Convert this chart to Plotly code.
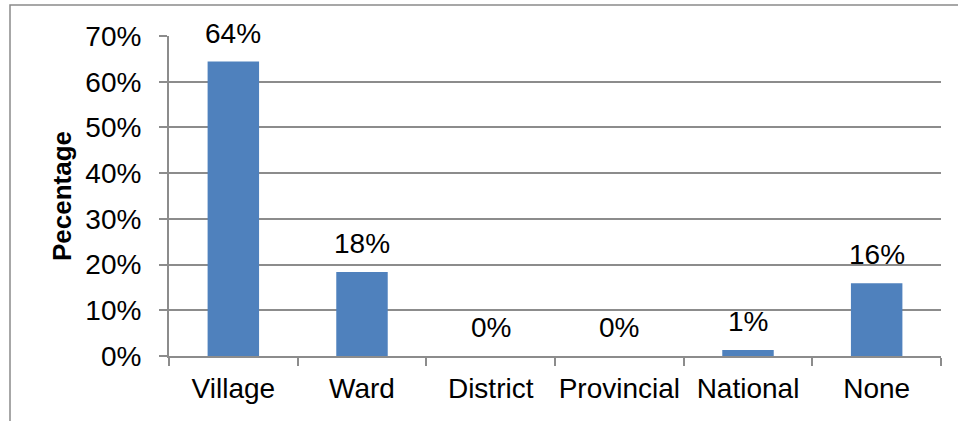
import plotly.graph_objects as go

categories = ["Village", "Ward", "District", "Provincial", "National", "None"]
values = [64.4, 18.4, 0, 0, 1.3, 15.9]
labels = ["64%", "18%", "0%", "0%", "1%", "16%"]
y_ticks = [0, 10, 20, 30, 40, 50, 60, 70]
y_tick_text = ["0%", "10%", "20%", "30%", "40%", "50%", "60%", "70%"]

W, H = 958, 421
ML, MR, MT, MB = 169, 17, 36, 65
PW, PH = W - ML - MR, H - MT - MB

FONT = "Liberation Sans, Arial, sans-serif"
GRID = "#8c8c8c"
FS = 28

fig = go.Figure()
fig.add_trace(go.Bar(
    x=categories, y=values, width=0.4,
    marker=dict(color="#4F81BD", line=dict(width=0)),
    hoverinfo="x+y",
))

for c, v, t in zip(categories, values, labels):
    fig.add_annotation(x=c, y=v, text=t, showarrow=False, xref="x", yref="y",
                       yanchor="bottom", yshift=11,
                       font=dict(family=FONT, size=FS, color="black"))

# y-axis title
fig.add_annotation(x=(62 - ML) / PW, y=0.5, xref="paper", yref="paper",
                   text="<b>Pecentage</b>", textangle=-90, showarrow=False,
                   xanchor="center", yanchor="middle",
                   font=dict(family=FONT, size=26, color="black"))

# chart border (left and top edges visible)
fig.add_shape(type="rect", xref="paper", yref="paper",
              x0=(10 - ML) / PW, x1=(W + 20 - ML) / PW,
              y0=-(H + 20 - MT - PH) / PH, y1=(PH + MT - 5) / PH,
              line=dict(color="#8a8a8a", width=1.5), layer="below")

fig.update_layout(
    width=W, height=H,
    margin=dict(l=ML, r=MR, t=MT, b=MB, autoexpand=False),
    paper_bgcolor="white", plot_bgcolor="white",
    showlegend=False, bargap=0.6,
    font=dict(family=FONT, size=FS, color="black"),
)
fig.update_xaxes(
    type="category", showline=True, linecolor=GRID, linewidth=2,
    ticks="outside", tickson="boundaries", ticklen=8, tickcolor=GRID, tickwidth=2,
    ticklabelstandoff=6, showgrid=False, tickangle=0,
    tickfont=dict(family=FONT, size=FS, color="black"),
)
fig.update_yaxes(
    range=[0, 70], tickmode="array", tickvals=y_ticks, ticktext=y_tick_text,
    showgrid=True, gridcolor=GRID, gridwidth=2,
    showline=True, linecolor=GRID, linewidth=2,
    ticks="outside", ticklen=8, tickcolor=GRID, tickwidth=2,
    ticklabelstandoff=12, zeroline=False,
    tickfont=dict(family=FONT, size=FS, color="black"),
)

fig.write_html("out.html", config={"displayModeBar": False},
               post_script="document.body.style.margin='0';document.body.style.overflow='hidden';")
